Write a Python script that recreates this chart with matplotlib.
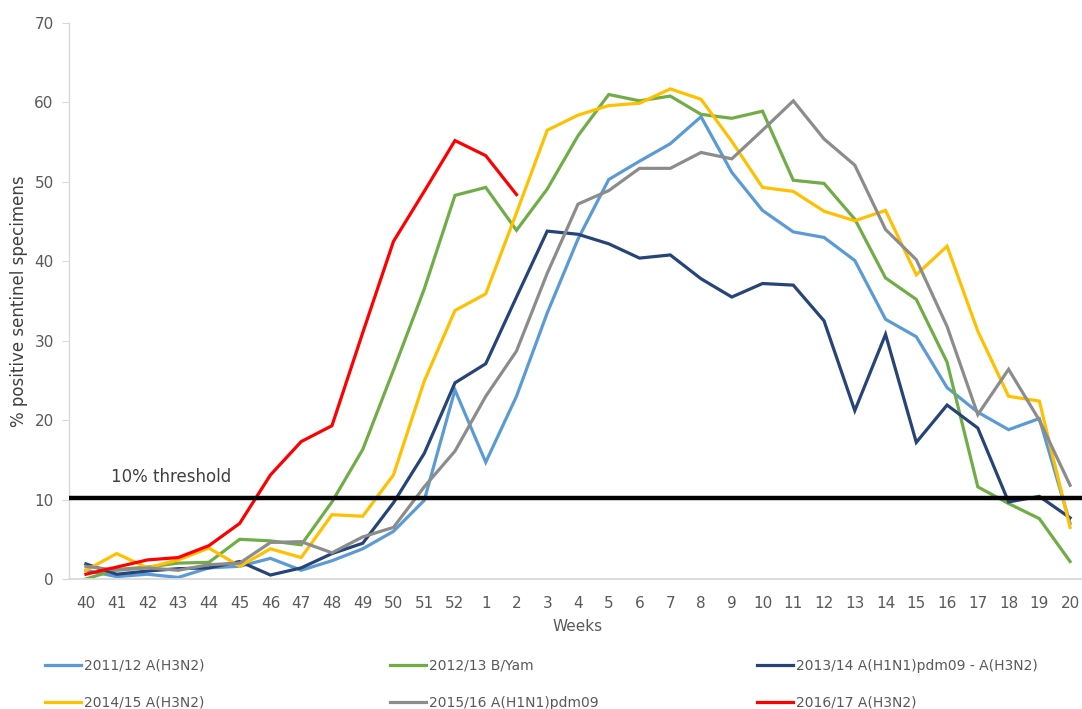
import numpy as np
import matplotlib.pyplot as plt
from matplotlib import rcParams

rcParams['font.family'] = 'DejaVu Sans'

# --- data ---
weeks = ['40', '41', '42', '43', '44', '45', '46', '47', '48', '49', '50', '51', '52',
         '1', '2', '3', '4', '5', '6', '7', '8', '9', '10', '11', '12', '13', '14',
         '15', '16', '17', '18', '19', '20']

s2011 = [1.1, 0.3, 0.6, 0.2, 1.4, 1.6, 2.6, 1.1, 2.3, 3.8, 6.0, 9.9, 23.8,
         14.7, 23.0, 33.5, 42.8, 50.3, 52.6, 54.8, 58.2, 51.2, 46.4, 43.7, 43.0,
         40.1, 32.7, 30.5, 24.1, 21.0, 18.8, 20.2, 7.0]
s2012 = [0.0, 1.2, 1.5, 2.0, 2.1, 5.0, 4.8, 4.3, 9.7, 16.3, 26.3, 36.5, 48.3,
         49.3, 43.9, 49.1, 55.8, 61.0, 60.2, 60.8, 58.5, 58.0, 58.9, 50.2, 49.8,
         45.3, 37.9, 35.2, 27.3, 11.6, 9.5, 7.6, 2.2]
s2013 = [1.9, 0.6, 1.0, 1.3, 1.4, 2.2, 0.5, 1.4, 3.2, 4.5, 9.6, 15.8, 24.7,
         27.1, 35.5, 43.8, 43.4, 42.2, 40.4, 40.8, 37.8, 35.5, 37.2, 37.0, 32.5,
         21.2, 30.8, 17.2, 21.9, 19.0, 9.7, 10.4, 7.7]
s2014 = [1.1, 3.2, 1.4, 2.4, 3.9, 1.6, 3.8, 2.7, 8.1, 7.9, 13.1, 24.9, 33.8,
         35.9, 46.1, 56.5, 58.4, 59.6, 59.9, 61.7, 60.4, 55.1, 49.3, 48.8, 46.3,
         45.1, 46.4, 38.3, 41.9, 31.2, 23.0, 22.4, 6.5]
s2015 = [1.6, 1.1, 1.4, 1.1, 1.8, 2.0, 4.6, 4.7, 3.3, 5.3, 6.5, 11.6, 16.1,
         23.0, 28.7, 38.5, 47.2, 48.9, 51.7, 51.7, 53.7, 52.9, 56.5, 60.2, 55.4,
         52.1, 44.0, 40.2, 31.8, 20.7, 26.4, 20.0, 11.8]
s2016 = [0.6, 1.5, 2.4, 2.7, 4.2, 7.0, 13.1, 17.3, 19.3, 31.0, 42.5, 48.8, 55.2,
         53.3, 48.4]

labels = ['2011/12 A(H3N2)', '2012/13 B/Yam', '2013/14 A(H1N1)pdm09 - A(H3N2)',
          '2014/15 A(H3N2)', '2015/16 A(H1N1)pdm09', '2016/17 A(H3N2)']
colors = ['#5B9BD5', '#70AD47', '#264478', '#FFC000', '#8C8C8C', '#FF0000']
series = [s2011, s2012, s2013, s2014, s2015, s2016]

threshold = 10.2

# --- plot ---
fig = plt.figure(figsize=(10.82, 7.09), dpi=100)
ax = fig.add_axes([69 / 1082, 130 / 709, 1018 / 1082, 556 / 709])

x = np.arange(len(weeks))
handles = []
for vals, col, lab in zip(series, colors, labels):
    h, = ax.plot(x[:len(vals)], vals, color=col, linewidth=2.3, label=lab,
                 solid_joinstyle='miter')
    handles.append(h)

ax.axhline(threshold, color='black', linewidth=3.2, zorder=5)
ax.text(0.8, 12.9, '10% threshold', fontsize=12, color='#404040', va='center')

ax.set_xlim(-0.55, len(weeks) - 0.45)
ax.set_ylim(0, 70)
ax.set_yticks(np.arange(0, 71, 10))
ax.set_xticks(x)
ax.set_xticklabels(weeks)

for sp in ['top', 'right']:
    ax.spines[sp].set_visible(False)
ax.spines['left'].set_color('#d9d9d9')
ax.spines['bottom'].set_color('#d9d9d9')
ax.spines['left'].set_linewidth(1.0)
ax.spines['bottom'].set_linewidth(1.3)
ax.tick_params(axis='y', colors='#d9d9d9', labelcolor='#595959', labelsize=11,
               length=5, pad=6)
ax.tick_params(axis='x', length=0, labelcolor='#595959', labelsize=11, pad=12)

ax.set_xlabel('Weeks', fontsize=11, color='#595959', labelpad=6)
ax.set_ylabel('% positive sentinel specimens', fontsize=12, color='#404040')
ax.yaxis.set_label_coords(-41 / 1018, 0.5)

# legend: three columns placed like the original
col_x = [38 / 1082, 383 / 1082, 750 / 1082]
for i in range(3):
    leg = fig.legend([handles[i], handles[i + 3]], [labels[i], labels[i + 3]],
                     loc='upper left', bbox_to_anchor=(col_x[i], 57 / 709),
                     frameon=False, fontsize=10, handlelength=2.6,
                     handletextpad=0.2, labelspacing=1.65, borderpad=0,
                     labelcolor='#595959')

fig.savefig('out.png', dpi=100)
